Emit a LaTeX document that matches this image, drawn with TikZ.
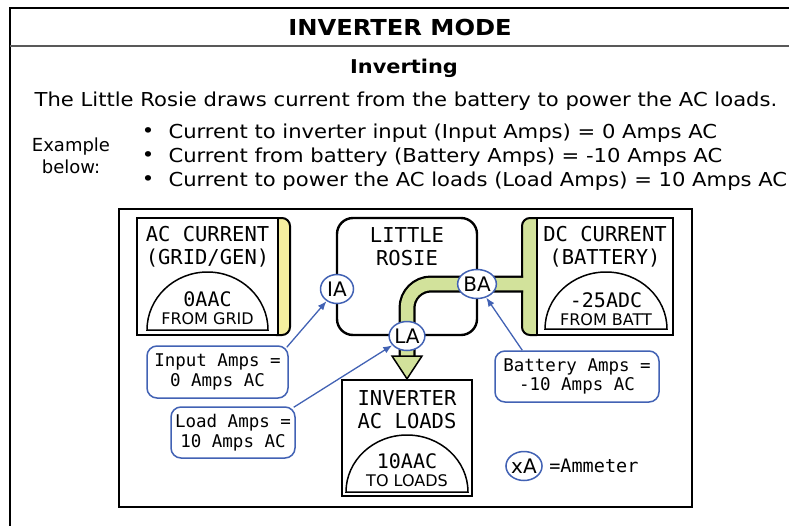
\documentclass[tikz,border=0pt]{standalone}
\usepackage{fontspec}
\setmainfont{DejaVu Sans}
\setmonofont{DejaVu Sans Mono}
\newfontfamily\headfont{DejaVu Sans}[FakeStretch=1.1]
\usetikzlibrary{arrows.meta, positioning, shapes.geometric}

\definecolor{barYellow}{HTML}{F6EF9F}
\definecolor{pipeGreen}{HTML}{D2E29B}
\definecolor{calloutBlue}{HTML}{4262B4}

\begin{document}
\begin{tikzpicture}[
    x=1pt, y=-1pt,
    meterbox/.style={draw, line width=2.4pt, fill=white, minimum width=#1,
                     minimum height=117pt, inner sep=0pt},
    hub/.style={draw, line width=2.4pt, rounded corners=16pt, fill=white,
                minimum width=140pt, minimum height=117pt, inner sep=0pt},
    boxtitle/.style={font=\ttfamily\fontsize{20.5}{23}\selectfont, align=center},
    reading/.style={font=\ttfamily\fontsize{20}{20}\selectfont},
    source/.style={font=\fontsize{16}{16}\selectfont},
    ammeter/.style={ellipse, draw=calloutBlue, line width=1.5pt, fill=white,
                    minimum width=33pt, minimum height=29pt, inner sep=0pt,
                    font=\fontsize{20}{20}\selectfont},
    callout/.style={draw=calloutBlue, line width=1.5pt, rounded corners=10pt,
                    fill=white, align=center, inner sep=0pt,
                    font=\ttfamily\fontsize{17.5}{19.5}\selectfont},
    pointer/.style={draw=calloutBlue, line width=1.3pt,
                    -{Latex[length=9pt, width=7pt]}},
    bodytext/.style={font=\headfont\fontsize{19.2}{22}\selectfont}
  ]

  \path[use as bounding box, clip] (0,0) rectangle (789,525);

  \draw[line width=2pt] (10,545) -- (10,8) -- (800,8);
  \draw[line width=2pt, black!65] (10,46) -- (800,46);

  \node[font=\headfont\bfseries\fontsize{22}{26}\selectfont] (title) at (400,27) {INVERTER MODE};
  \node[font=\headfont\bfseries\fontsize{19}{22}\selectfont] (mode) at (404,68) {Inverting};
  \node[bodytext] (intro) at (406,101)
    {The Little Rosie draws current from the battery to power the AC loads.};
  \node[font=\fontsize{18}{22}\selectfont, align=center] (example) at (71,156) {Example\\below:};

  \node[bodytext] (dot1) at (148,133) {•};
  \node[bodytext] (dot2) at (148,157) {•};
  \node[bodytext] (dot3) at (148,181) {•};
  \node[bodytext, anchor=west] (line1) at (165,133)
    {Current to inverter input (Input Amps) = 0 Amps AC};
  \node[bodytext, anchor=west] (line2) at (165,157)
    {Current from battery (Battery Amps) = -10 Amps AC};
  \node[bodytext, anchor=west] (line3) at (165,181)
    {Current to power the AC loads (Load Amps) = 10 Amps AC};

  \draw[line width=2pt] (119,209) rectangle (692,507);

  % grid side
  \draw[line width=2pt, fill=barYellow, rounded corners=8pt]
    (268,218) -- (290,218) -- (290,335) -- (268,335) -- cycle;
  \node[meterbox=141pt] (acbox) at (207.5,276.5) {};
  \node[boxtitle] (actitle) at (207.5,246.5) {AC CURRENT\\(GRID/GEN)};
  \draw[line width=1.5pt] (147,330) arc[start angle=180, end angle=0,
    x radius=60.5pt, y radius=58pt] -- cycle;
  \node[reading] (acread) at (207.5,299) {0AAC};
  \node[source] (acsrc) at (207.5,319) {FROM GRID};

  % battery side
  \draw[line width=2pt, fill=pipeGreen, rounded corners=8pt]
    (545,218) -- (522,218) -- (522,335) -- (545,335) -- cycle;
  \node[meterbox=136pt] (dcbox) at (605,276.5) {};
  \node[boxtitle] (dctitle) at (605,246.5) {DC CURRENT\\(BATTERY)};
  \draw[line width=1.5pt] (545,329) arc[start angle=180, end angle=0,
    x radius=61pt, y radius=57pt] -- cycle;
  \node[reading] (dcread) at (606,300) {-25ADC};
  \node[source] (dcsrc) at (606,320) {FROM BATT};

  % inverter and loads
  \node[hub] (rosie) at (407,276.5) {};
  \node[boxtitle] (rosietitle) at (407,246.5) {LITTLE\\ROSIE};

  \node[meterbox=130pt, minimum height=116pt] (loads) at (407,438) {};
  \node[boxtitle] (loadstitle) at (407,409.5) {INVERTER\\AC LOADS};
  \draw[line width=1.5pt] (346,492) arc[start angle=180, end angle=0,
    x radius=61pt, y radius=57pt] -- cycle;
  \node[reading] (loadread) at (407,461) {10AAC};
  \node[source] (loadsrc) at (407,481) {TO LOADS};

  \coordinate (pipein) at (523,284);
  \coordinate (pipeout) at (407,357);
  \draw[line width=17pt, rounded corners=24pt] (pipein) -- (407,284) -- (pipeout);
  \draw[line width=12.5pt, pipeGreen, rounded corners=24pt]
    ([xshift=2pt]pipein) -- (407,284) -- ([yshift=-2pt]pipeout);
  \draw[line width=1.5pt, fill=pipeGreen]
    (392,356) -- (422,356) -- (loads.north) -- cycle;

  \node[ammeter] (ia) at (337,289) {IA};
  \node[ammeter] (la) at (407,336) {LA};
  \node[ammeter] (ba) at (477,284) {BA};

  \node[callout, minimum width=141pt, minimum height=52pt] (inamps) at (217.5,372)
    {Input Amps =\\0 Amps AC};
  \node[callout, minimum width=124pt, minimum height=51pt] (ldamps) at (233,432.5)
    {Load Amps =\\10 Amps AC};
  \node[callout, minimum width=164pt, minimum height=51pt] (btamps) at (577,376.5)
    {Battery Amps =\\-10 Amps AC};

  \draw[pointer] ([xshift=-2pt, yshift=-2pt]inamps.north east) -- (ia);
  \draw[pointer] ([xshift=-2pt, yshift=-1pt]ldamps.north east) -- (la);
  \draw[pointer] ([xshift=28pt]btamps.north west) -- (ba);

  \node[ammeter] (key) at (524,466) {xA};
  \node[font=\ttfamily\fontsize{18.5}{20}\selectfont, anchor=west,
        right=3pt of key] (keytext) {=Ammeter};

\end{tikzpicture}
\end{document}
